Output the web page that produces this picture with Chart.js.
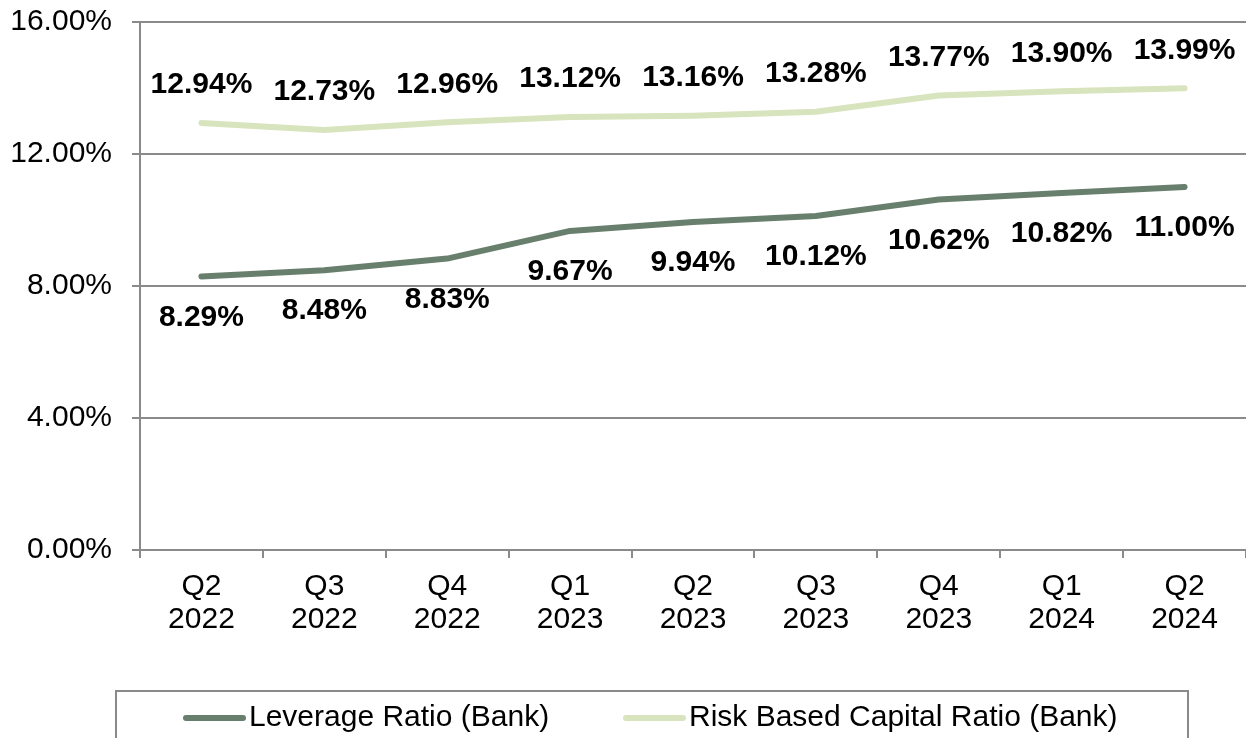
<!DOCTYPE html>
<html>
<head>
<meta charset="utf-8">
<script src="https://cdn.jsdelivr.net/npm/chart.js@4/dist/chart.umd.min.js"></script>
<style>
  body { margin: 0; background: #fff; }
  canvas { display: block; }
</style>
</head>
<body>
<canvas id="myChart" width="1246" height="738"></canvas>
<script>
const quarters = [['Q2', '2022'], ['Q3', '2022'], ['Q4', '2022'], ['Q1', '2023'], ['Q2', '2023'], ['Q3', '2023'], ['Q4', '2023'], ['Q1', '2024'], ['Q2', '2024']]
const leverage = [8.29, 8.48, 8.83, 9.67, 9.94, 10.12, 10.62, 10.82, 11.00]
const riskBased = [12.94, 12.73, 12.96, 13.12, 13.16, 13.28, 13.77, 13.90, 13.99]
const seriesNames = ['Leverage Ratio (Bank)', 'Risk Based Capital Ratio (Bank)']

const FONT = '"Liberation Sans", Arial, sans-serif'
const GRID = '#8a8a8a'
const DARK = '#687f6d'
const LIGHT = '#d7e4bd'

// value labels: risk above the line, leverage below
const valueLabels = {
	id: 'valueLabels',
	afterDatasetsDraw(chart) {
		const ctx = chart.ctx
		ctx.save()
		ctx.font = 'bold 30px ' + FONT
		ctx.fillStyle = '#000'
		ctx.textAlign = 'center'
		ctx.textBaseline = 'middle'
		chart.data.datasets.forEach(function (ds, i) {
			const meta = chart.getDatasetMeta(i)
			meta.data.forEach(function (pt, j) {
				const dy = i === 0 ? 41 : -38
				ctx.fillText(ds.data[j].toFixed(2) + '%', pt.x, pt.y + dy)
			})
		})
		ctx.restore()
	}
}

// boxed legend at the bottom, like the excel one
const boxLegend = {
	id: 'boxLegend',
	afterDraw(chart) {
		const ctx = chart.ctx
		ctx.save()
		ctx.strokeStyle = GRID
		ctx.lineWidth = 2
		ctx.strokeRect(116, 691, 1072, 80)
		const items = [
			{ x: 183, color: DARK, text: seriesNames[0] },
			{ x: 623, color: LIGHT, text: seriesNames[1] }
		]
		ctx.font = '30px ' + FONT
		ctx.textBaseline = 'middle'
		ctx.textAlign = 'left'
		items.forEach(function (it) {
			ctx.strokeStyle = it.color
			ctx.lineWidth = 6
			ctx.lineCap = 'round'
			ctx.beginPath()
			ctx.moveTo(it.x + 3, 718)
			ctx.lineTo(it.x + 60, 718)
			ctx.stroke()
			ctx.fillStyle = '#000'
			ctx.fillText(it.text, it.x + 66, 718)
		})
		ctx.restore()
	}
}

const ctx = document.getElementById('myChart')
const myChart = new Chart(ctx, {
	type: 'line',
	data: {
		labels: quarters,
		datasets: [
			{
				label: seriesNames[0],
				data: leverage,
				borderColor: DARK,
				backgroundColor: DARK,
				borderWidth: 6,
				borderCapStyle: 'round',
				borderJoinStyle: 'round',
				pointRadius: 0,
				tension: 0,
			},
			{
				label: seriesNames[1],
				data: riskBased,
				borderColor: LIGHT,
				backgroundColor: LIGHT,
				borderWidth: 6,
				borderCapStyle: 'round',
				borderJoinStyle: 'round',
				pointRadius: 0,
				tension: 0,
			},
		],
	},
	options: {
		responsive: false,
		animation: false,
		layout: {
			padding: { top: 22, left: 0, right: 0, bottom: 88 },
		},
		plugins: {
			legend: { display: false },
			tooltip: { enabled: false },
		},
		scales: {
			x: {
				offset: true,
				grid: {
					offset: true,
					drawOnChartArea: false,
					color: GRID,
					lineWidth: 2,
					tickLength: 8,
				},
				border: { color: GRID, width: 2 },
				ticks: {
					color: '#000',
					font: { family: FONT, size: 30, lineHeight: 1.1 },
					padding: 12,
					maxRotation: 0,
					autoSkip: false,
				},
				afterFit(scale) {
					scale.height = 100
					scale.paddingLeft = 0
					scale.paddingRight = 0
				},
			},
			y: {
				min: 0,
				max: 16,
				grid: {
					color: GRID,
					lineWidth: 2,
					tickLength: 8,
				},
				border: { color: GRID, width: 2 },
				ticks: {
					stepSize: 4,
					color: '#000',
					font: { family: FONT, size: 30 },
					padding: 20,
					callback: function (v) {
						return v.toFixed(2) + '%'
					},
				},
				afterFit(scale) {
					scale.width = 140
					scale.paddingTop = 0
					scale.paddingBottom = 0
				},
			},
		},
	},
	plugins: [valueLabels, boxLegend],
})
</script>
</body>
</html>
